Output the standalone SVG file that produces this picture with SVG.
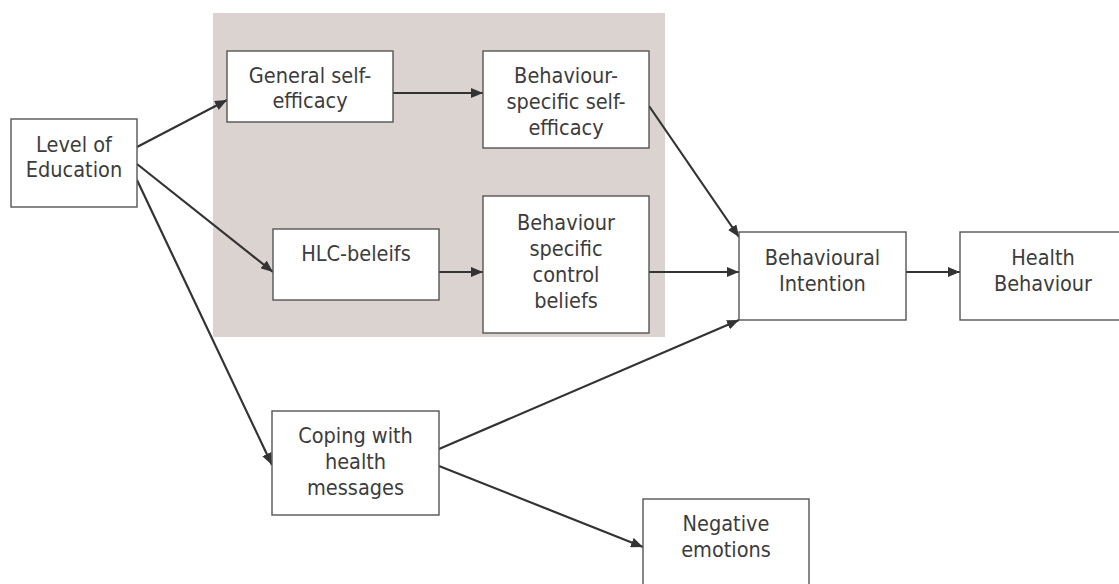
<svg xmlns="http://www.w3.org/2000/svg" width="1119" height="584" viewBox="0 0 1119 584">
<style>
.box{fill:#fff;stroke:#555;stroke-width:1.4}
.t{font-family:"DejaVu Sans Condensed","DejaVu Sans",sans-serif;font-stretch:condensed;font-size:21.5px;fill:#3c3c3c;text-anchor:middle}
.c{stroke:#333;stroke-width:2.2;fill:none;marker-end:url(#ah)}
</style>
<defs>
<marker id="ah" viewBox="0 0 12 10" refX="12" refY="5" markerWidth="12" markerHeight="10" markerUnits="userSpaceOnUse" orient="auto">
<path d="M0,0 L12,5 L0,10 Z" fill="#333"/>
</marker>
</defs>
<rect x="0" y="0" width="1119" height="584" fill="#fff"/>
<rect id="shade" x="213" y="13" width="452" height="324" fill="#dbd3d0"/>
<g id="connectors">
<line class="c" x1="137" y1="147" x2="227" y2="100"/>
<line class="c" x1="137" y1="164" x2="273" y2="272"/>
<line class="c" x1="137" y1="180" x2="272" y2="465"/>
<line class="c" x1="393" y1="93" x2="483" y2="93"/>
<line class="c" x1="649" y1="106" x2="739" y2="237"/>
<line class="c" x1="439" y1="272" x2="483" y2="272"/>
<line class="c" x1="649" y1="272" x2="739" y2="272"/>
<line class="c" x1="439" y1="449" x2="739" y2="320"/>
<line class="c" x1="439" y1="466" x2="643" y2="547"/>
<line class="c" x1="906" y1="272" x2="960" y2="272"/>
</g>
<g id="level">
<rect class="box" x="11" y="119" width="126" height="88"/>
<text class="t" x="74" y="152">Level of</text>
<text class="t" x="74" y="177">Education</text>
</g>
<g id="general">
<rect class="box" x="227" y="51" width="166" height="71"/>
<text class="t" x="310" y="83">General self-</text>
<text class="t" x="310" y="108">efficacy</text>
</g>
<g id="bsse">
<rect class="box" x="483" y="51" width="166" height="97"/>
<text class="t" x="566" y="83">Behaviour-</text>
<text class="t" x="566" y="109">specific self-</text>
<text class="t" x="566" y="135">efficacy</text>
</g>
<g id="hlc">
<rect class="box" x="273" y="229" width="166" height="71"/>
<text class="t" x="356" y="261">HLC-beleifs</text>
</g>
<g id="bscb">
<rect class="box" x="483" y="196" width="166" height="137"/>
<text class="t" x="566" y="230">Behaviour</text>
<text class="t" x="566" y="256">specific</text>
<text class="t" x="566" y="282">control</text>
<text class="t" x="566" y="308">beliefs</text>
</g>
<g id="intention">
<rect class="box" x="739" y="232" width="167" height="88"/>
<text class="t" x="822.5" y="265">Behavioural</text>
<text class="t" x="822.5" y="291">Intention</text>
</g>
<g id="health">
<rect class="box" x="960" y="232" width="166" height="88"/>
<text class="t" x="1043" y="265">Health</text>
<text class="t" x="1043" y="291">Behaviour</text>
</g>
<g id="coping">
<rect class="box" x="272" y="411" width="167" height="104"/>
<text class="t" x="355.5" y="443">Coping with</text>
<text class="t" x="355.5" y="469">health</text>
<text class="t" x="355.5" y="495">messages</text>
</g>
<g id="negative">
<rect class="box" x="643" y="499" width="166" height="100"/>
<text class="t" x="726" y="531">Negative</text>
<text class="t" x="726" y="557">emotions</text>
</g>
</svg>
